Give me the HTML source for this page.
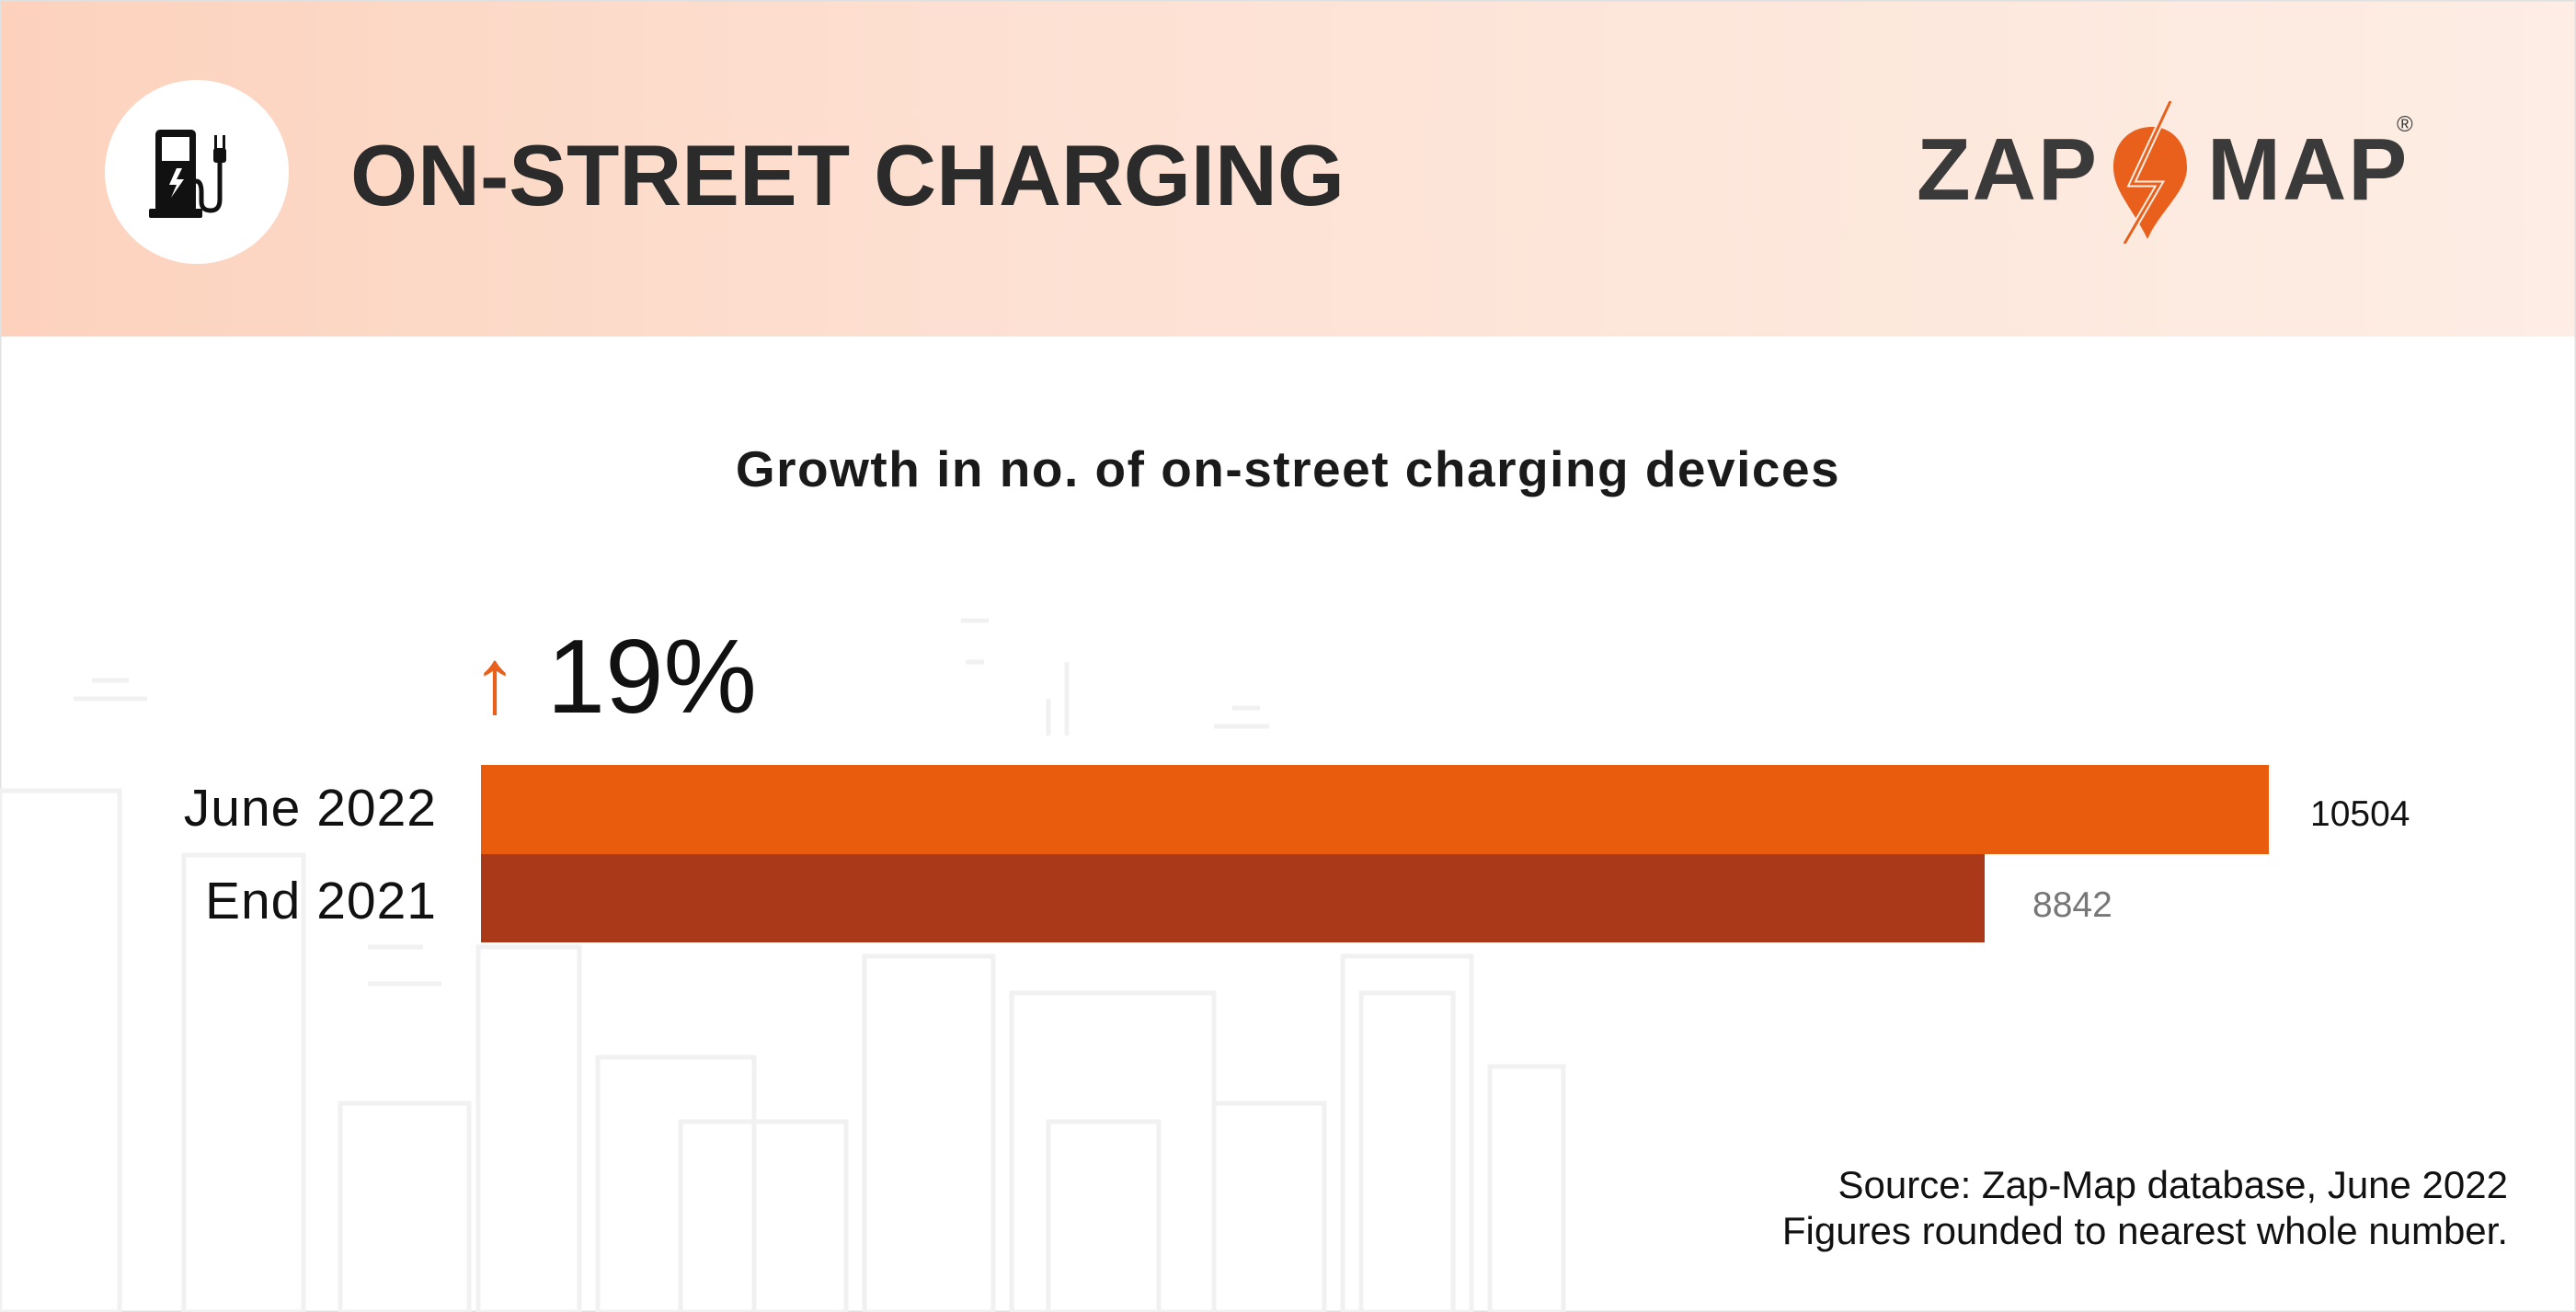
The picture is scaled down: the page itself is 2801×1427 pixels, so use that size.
<!DOCTYPE html>
<html><head><meta charset="utf-8"><style>
html,body{margin:0;padding:0}
body{width:2801px;height:1427px;position:relative;overflow:hidden;background:#fff;font-family:"Liberation Sans",sans-serif}
.hdr{position:absolute;left:0;top:0;width:2801px;height:366px;background:linear-gradient(90deg,#fcd2bd 0%,#fde1d3 40%,#fdede4 100%)}
.t{position:absolute;white-space:nowrap}
</style></head><body>
<div class="hdr"></div>
<svg style="position:absolute;left:0;top:0" width="2801" height="1427">
 <rect x="0.5" y="0.5" width="2800" height="1426" fill="none" stroke="#e0e0e0" stroke-width="2"/>
 <g fill="none" stroke="#f1f1f1" stroke-width="5">
  <rect x="0" y="860" width="130" height="567"/>
  <rect x="200" y="930" width="130" height="497"/>
  <rect x="520" y="1030" width="110" height="397"/>
  <rect x="370" y="1200" width="140" height="227"/>
  <rect x="650" y="1150" width="170" height="277"/>
  <rect x="740" y="1220" width="180" height="207"/>
  <rect x="940" y="1040" width="140" height="387"/>
  <rect x="1100" y="1080" width="220" height="347"/>
  <rect x="1140" y="1220" width="120" height="207"/>
  <rect x="1320" y="1200" width="120" height="227"/>
  <rect x="1460" y="1040" width="140" height="387"/>
  <rect x="1480" y="1080" width="100" height="347"/>
  <rect x="1620" y="1160" width="80" height="267"/>
  <path d="M80 760h80M100 740h40M1320 790h60M1340 770h30M400 1070h80M400 1030h60"/>
  <path d="M1050 720h20M1045 675h30M1140 800v-40M1160 800v-80"/>
 </g>
</svg>
<svg style="position:absolute;left:114px;top:87px" width="200" height="200">
 <circle cx="100" cy="100" r="100" fill="#fff"/>
 <rect x="55" y="54" width="44" height="90" rx="5" fill="#111"/>
 <rect x="62" y="62" width="30" height="26" fill="#fff"/>
 <rect x="48" y="140" width="58" height="10" rx="2" fill="#111"/>
 <path d="M78 96 L70 114 L78 114 L72 128 L86 108 L78 108 L84 96Z" fill="#fff"/>
 <path d="M99 110 q6 0 6 12 v10 q0 10 10 10 q10 0 10 -12 v-40" fill="none" stroke="#111" stroke-width="5"/>
 <rect x="118" y="74" width="14" height="16" rx="3" fill="#111"/>
 <rect x="119" y="60" width="3" height="16" fill="#111"/><rect x="128" y="60" width="3" height="16" fill="#111"/>
</svg>
<div class="t" style="left:381px;top:136px;font-size:94px;line-height:110px;font-weight:bold;color:#2b2b2b;letter-spacing:0px">ON-STREET CHARGING</div>
<div class="t" style="left:2084px;top:130px;font-size:96px;line-height:110px;font-weight:bold;color:#3a3a3a;letter-spacing:2px">ZAP</div>
<div class="t" style="left:2400px;top:130px;font-size:96px;line-height:110px;font-weight:bold;color:#3a3a3a;letter-spacing:2px">MAP</div>
<div class="t" style="left:2606px;top:122px;font-size:24px;color:#3a3a3a">®</div>
<svg style="position:absolute;left:2290px;top:110px" width="100" height="155">
 <path d="M50 28 C25 28 8 46 8 72 C8 98 30 118 45 150 C60 118 88 98 88 72 C88 46 72 28 50 28Z" fill="#e8601c"/>
 <path d="M70 0 L28 90 L58 90 L20 155" fill="none" stroke="#fdede4" stroke-width="7"/>
 <path d="M70 0 L28 90 L58 90 L20 155" fill="none" stroke="#e8601c" stroke-width="3"/>
</svg>
<div class="t" style="left:0;width:2801px;text-align:center;top:478px;font-size:55px;line-height:64px;font-weight:bold;color:#1a1a1a;letter-spacing:1.5px">Growth in no. of on-street charging devices</div>
<div class="t" style="left:513px;top:672px;font-size:114px;line-height:130px;color:#111"><span style="color:#e8601c;font-size:100px">↑</span> 19%</div>
<div style="position:absolute;left:523px;top:832px;width:1944px;height:97px;background:#e95c0d"></div>
<div style="position:absolute;left:523px;top:929px;width:1635px;height:96px;background:#a93918"></div>
<div class="t" style="right:2326px;top:846px;font-size:57px;line-height:66px;color:#111;letter-spacing:1px">June 2022</div>
<div class="t" style="right:2326px;top:947px;font-size:57px;line-height:66px;color:#111;letter-spacing:1px">End 2021</div>
<div class="t" style="left:2512px;top:863px;font-size:39px;line-height:46px;color:#111">10504</div>
<div class="t" style="left:2210px;top:962px;font-size:39px;line-height:46px;color:#777">8842</div>
<div class="t" style="right:74px;top:1264px;font-size:42px;line-height:50px;color:#111;text-align:right">Source: Zap-Map database, June 2022<br>Figures rounded to nearest whole number.</div>
</body></html>
